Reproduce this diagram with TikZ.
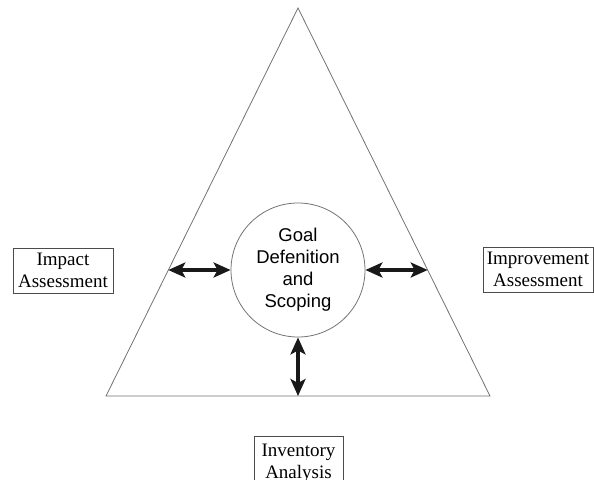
\documentclass[tikz,border=0pt]{standalone}
\usepackage{fontspec}
\setmainfont{Liberation Serif}
\newfontfamily\arialfont{Liberation Sans}
\usetikzlibrary{arrows.meta}
\begin{document}
\begin{tikzpicture}[x=1pt,y=-1pt,
  edge/.style={draw=black!55,line width=0.8pt},
  labelbox/.style={draw=black!70,line width=0.7pt,align=center,inner sep=0pt,
    font=\fontsize{19}{22}\selectfont},
  goalcircle/.style={circle,draw=black!55,line width=0.8pt,minimum size=134pt,inner sep=0pt,
    align=center,font=\arialfont\fontsize{18.5}{22}\selectfont},
  twoway/.style={{Stealth[length=17pt,width=15pt,inset=4pt]}-{Stealth[length=17pt,width=15pt,inset=4pt]},line width=3.5pt,black!90}]
\clip (0,0) rectangle (594,479);
\fill[white] (0,0) rectangle (594,479);
% triangle
\coordinate (top) at (298,8);
\coordinate (bl) at (106,396);
\coordinate (br) at (490,396);
\draw[edge] (top) -- (bl) -- (br) -- cycle;
% circle
\node[goalcircle] (goal) at (298,270) {Goal\\Defenition\\and\\Scoping};
% arrow end points on the triangle
\coordinate (lt) at (168.3,270);
\coordinate (rt) at (427.7,270);
\coordinate (bt) at (298,396);
\draw[twoway] (lt) -- (goal.west);
\draw[twoway] (goal.east) -- (rt);
\draw[twoway] (goal.south) -- (bt);
% labels
\node[labelbox,minimum width=100pt,minimum height=45pt] (impact) at (63,270.5) {Impact\\Assessment};
\node[labelbox,minimum width=110pt,minimum height=45pt] (improve) at (538,269.5) {Improvement\\Assessment};
\node[labelbox,minimum width=89pt,minimum height=54pt,anchor=north] (inventory) at (298.5,436) {Inventory\\Analysis};
\end{tikzpicture}
\end{document}
